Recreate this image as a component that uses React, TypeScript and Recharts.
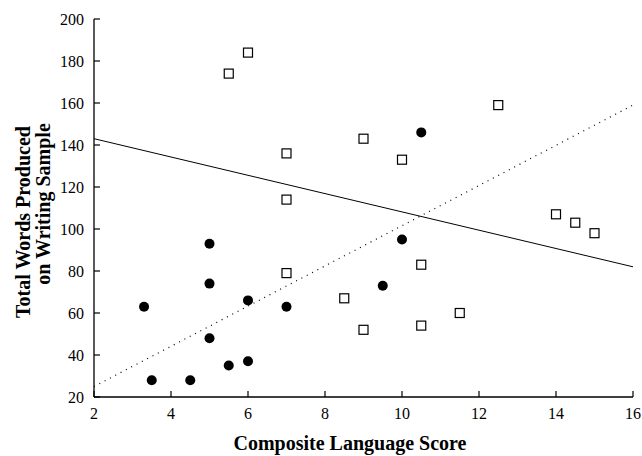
import React from "react";
import { ScatterChart, Scatter, XAxis, YAxis, ReferenceLine } from "recharts";

const squareX = [5.5, 6, 7, 7, 7, 9, 10, 12.5, 14, 14.5, 15, 10.5, 8.5, 9, 10.5, 11.5];
const squareY = [174, 184, 136, 114, 79, 143, 133, 159, 107, 103, 98, 83, 67, 52, 54, 60];
const circleX = [3.3, 3.5, 4.5, 5, 5, 5, 5.5, 6, 6, 7, 9.5, 10, 10.5];
const circleY = [63, 28, 28, 93, 74, 48, 35, 66, 37, 63, 73, 95, 146];
const solidLine = [{ x: 2, y: 143 }, { x: 16, y: 82 }];
const dottedLine = [{ x: 2, y: 25 }, { x: 16, y: 159 }];
const xTicks = [2, 4, 6, 8, 10, 12, 14, 16];
const yTicks = [20, 40, 60, 80, 100, 120, 140, 160, 180, 200];

const squares = squareX.map((x, i) => ({ x, y: squareY[i] }));
const circles = circleX.map((x, i) => ({ x, y: circleY[i] }));

const FONT = "'Liberation Serif', 'Times New Roman', serif";
const TM = 10;
const TL = 6;

const XTick = (props: any) => {
  const { x, y, payload } = props;
  return (
    <g>
      <path d={`M${x},${y - TM}V${y - TM - TL}`} stroke="#000" strokeWidth={1.2} fill="none" />
      <text x={x} y={y} dy="0.75em" textAnchor="middle" fontSize={16} fontFamily={FONT} fill="#000" stroke="none">
        {payload.value}
      </text>
    </g>
  );
};

const YTick = (props: any) => {
  const { x, y, payload } = props;
  return (
    <g>
      <path d={`M${x + TM},${y}H${x + TM + TL}`} stroke="#000" strokeWidth={1.2} fill="none" />
      <text x={x} y={y} dy="0.35em" textAnchor="end" fontSize={16} fontFamily={FONT} fill="#000" stroke="none">
        {payload.value}
      </text>
    </g>
  );
};

const SquareShape = (props: any) => {
  const { cx, cy } = props;
  return <rect x={cx - 4.5} y={cy - 4.5} width={9} height={9} fill="#fff" stroke="#000" strokeWidth={1.2} />;
};

const CircleShape = (props: any) => {
  const { cx, cy } = props;
  return <circle cx={cx} cy={cy} r={5} fill="#000" />;
};

export default function App() {
  return (
    <div style={{ position: "absolute", left: 0, top: 0, width: 642, height: 456, background: "#fff" }}>
      <ScatterChart width={642} height={456} margin={{ top: 19, right: 9, bottom: 0, left: 0 }}>
        <XAxis
          type="number"
          dataKey="x"
          domain={[2, 16]}
          ticks={xTicks}
          interval={0}
          tickLine={false}
          tickSize={0}
          tickMargin={TM}
          tick={XTick}
          axisLine={{ stroke: "#000", strokeWidth: 1.3 }}
          height={59}
        />
        <YAxis
          type="number"
          dataKey="y"
          domain={[20, 200]}
          ticks={yTicks}
          interval={0}
          tickLine={false}
          tickSize={0}
          tickMargin={TM}
          tick={YTick}
          axisLine={{ stroke: "#000", strokeWidth: 1.3 }}
          width={94}
        />
        <XAxis xAxisId="top" type="number" dataKey="x" domain={[2, 16]} orientation="top" tick={false} tickLine={false} axisLine={{ stroke: "#000", strokeWidth: 1 }} height={0} />
        <YAxis yAxisId="right" type="number" dataKey="y" domain={[20, 200]} orientation="right" tick={false} tickLine={false} axisLine={{ stroke: "#000", strokeWidth: 1 }} width={0} />
        <ReferenceLine segment={solidLine} stroke="#000" strokeWidth={1} ifOverflow="visible" />
        <ReferenceLine segment={dottedLine} stroke="#000" strokeWidth={1.2} strokeDasharray="1 5" ifOverflow="visible" />
        <Scatter data={squares} shape={<SquareShape />} isAnimationActive={false} />
        <Scatter data={circles} shape={<CircleShape />} isAnimationActive={false} />
        <text x={350} y={450} textAnchor="middle" fontSize={20} fontWeight="bold" fontFamily={FONT} fill="#000">
          Composite Language Score
        </text>
        <text x={30} y={222} textAnchor="middle" fontSize={20} fontWeight="bold" fontFamily={FONT} fill="#000" transform="rotate(-90 30 222)">
          Total Words Produced
        </text>
        <text x={50} y={204} textAnchor="middle" fontSize={20} fontWeight="bold" fontFamily={FONT} fill="#000" transform="rotate(-90 50 204)">
          on Writing Sample
        </text>
      </ScatterChart>
    </div>
  );
}
